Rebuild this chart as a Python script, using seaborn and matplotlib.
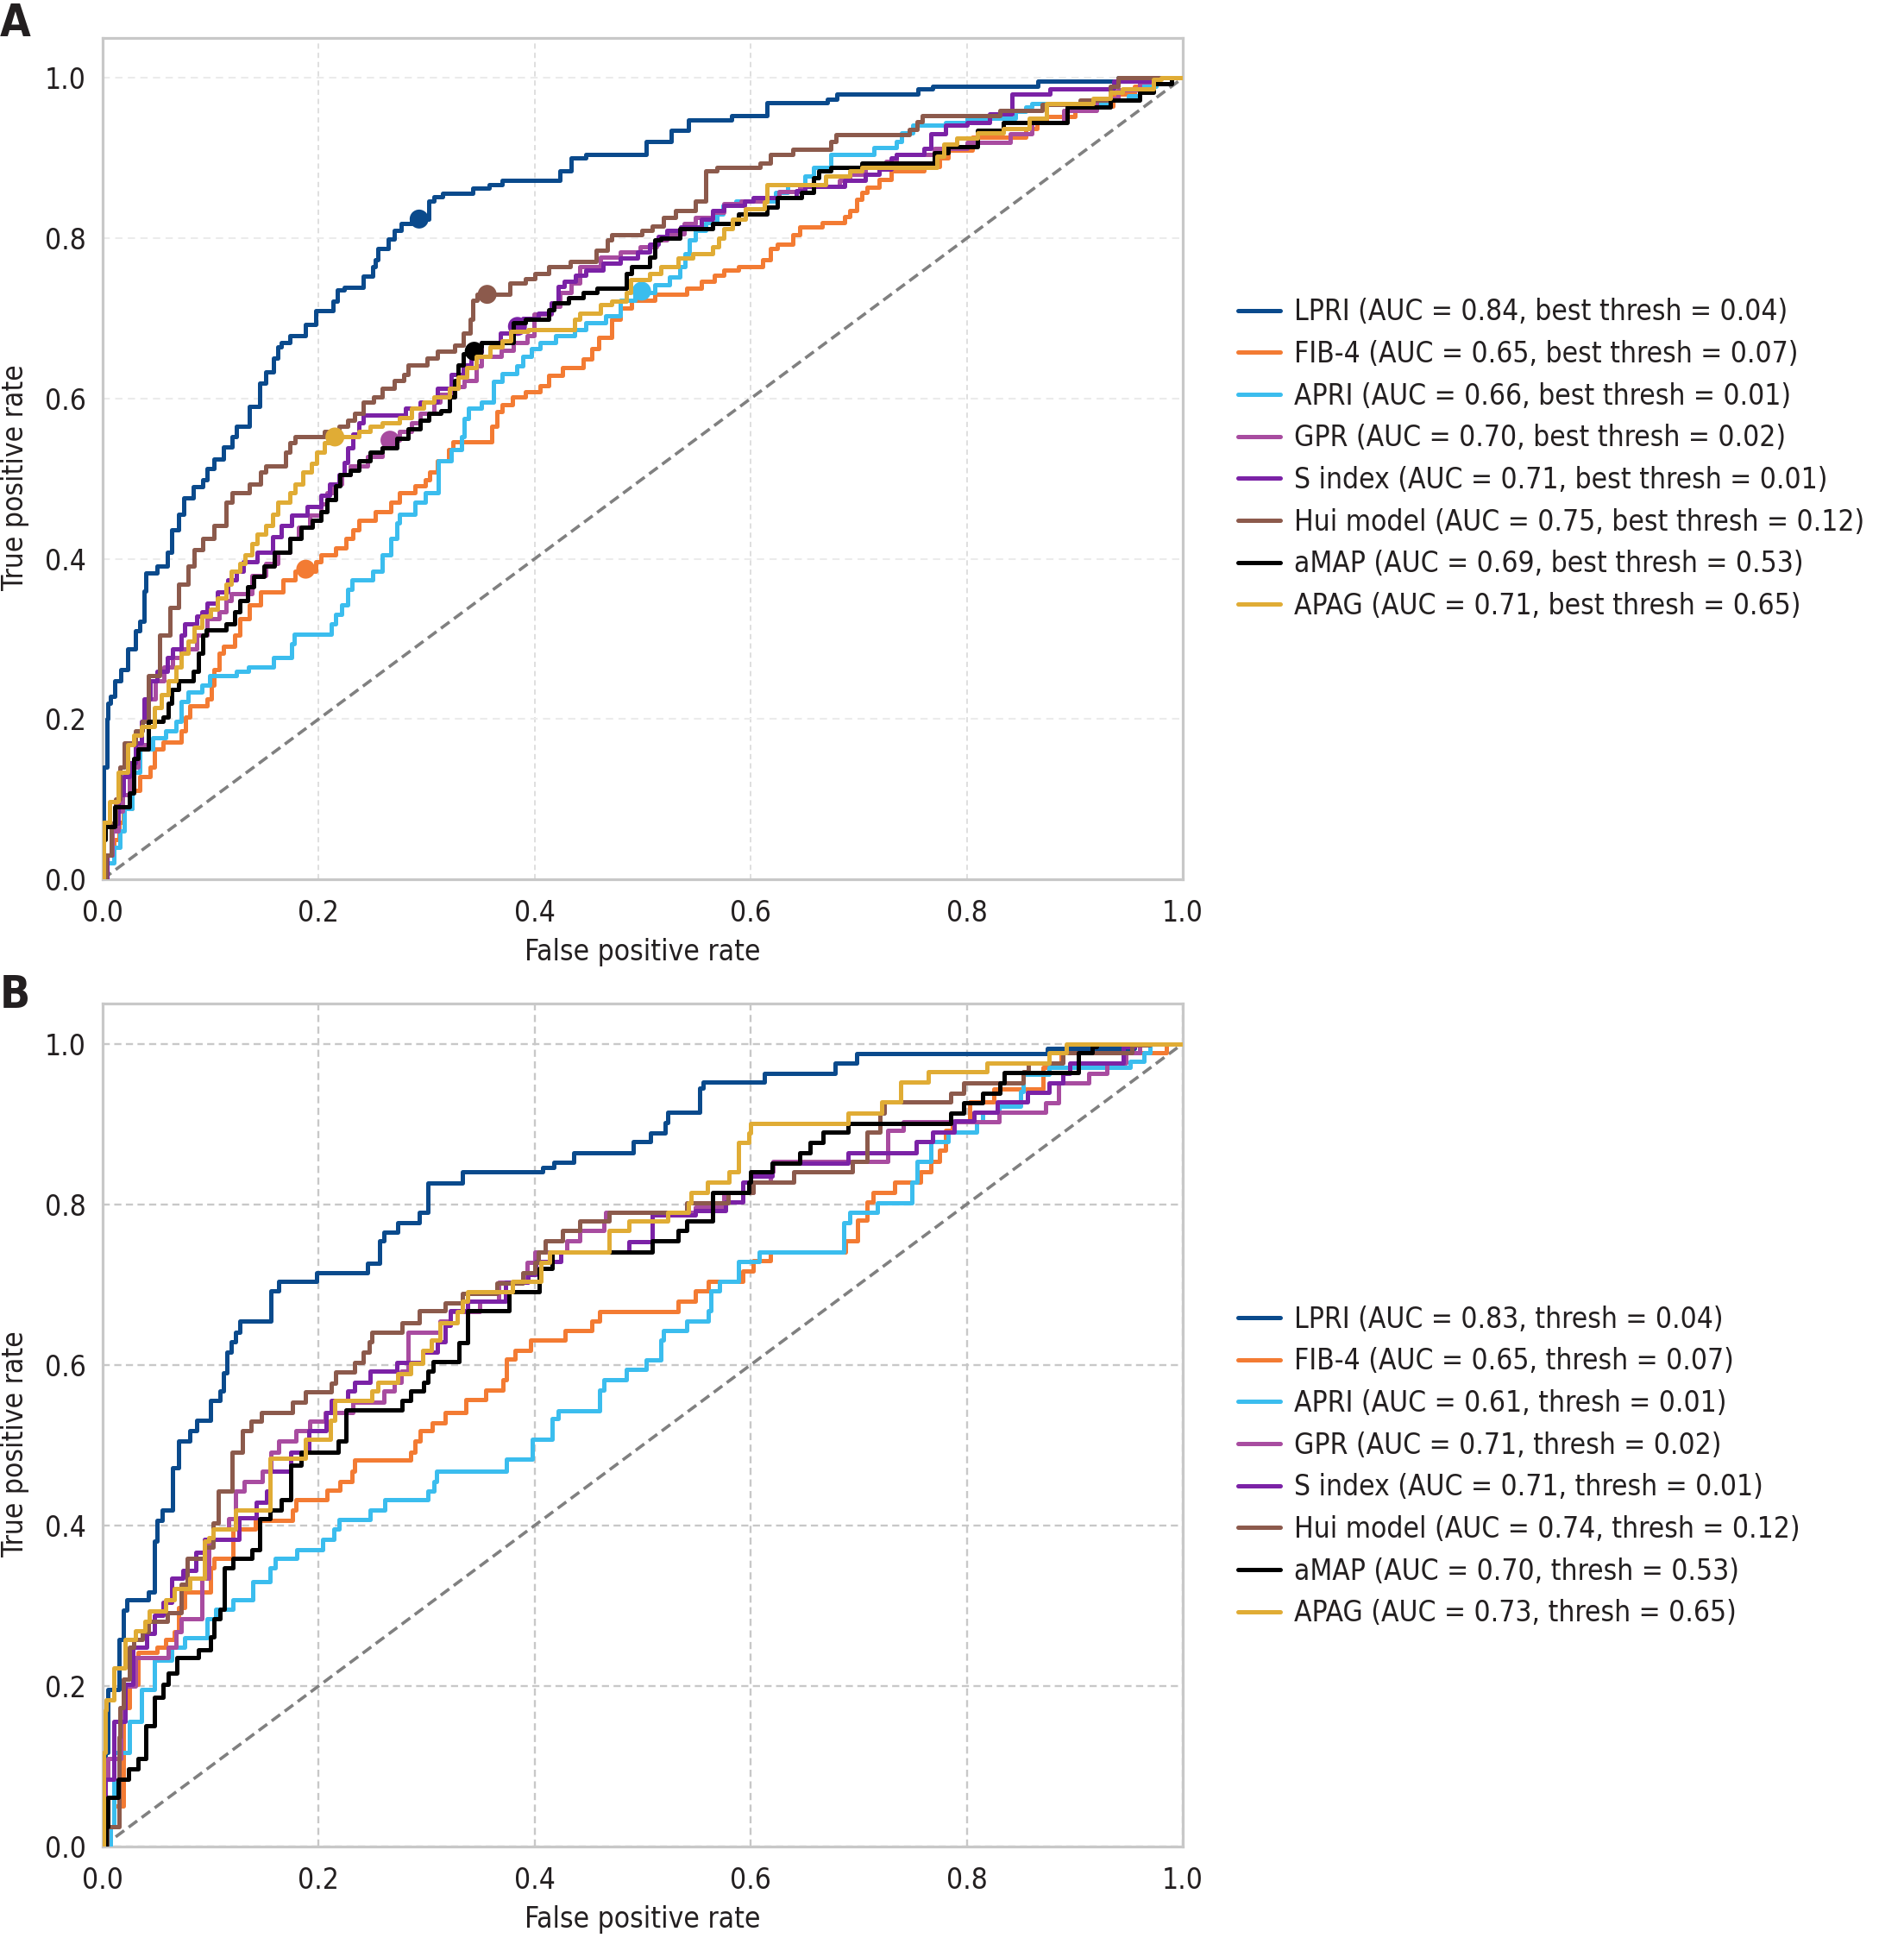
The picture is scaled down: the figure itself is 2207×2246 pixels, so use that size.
import os
import matplotlib
matplotlib.use("Agg")
import matplotlib.pyplot as plt
import matplotlib.font_manager as fm
import seaborn as sns
import pandas as pd

# ---------------- data ----------------
MODELS = ["LPRI", "FIB-4", "APRI", "GPR", "S index", "Hui model", "aMAP", "APAG"]
COLORS = ["#0a4a8c", "#f37b33", "#3bbdee", "#a84ca0", "#7b22a6", "#8c5a4c", "#000000", "#e0ac35"]
AUC_A = [0.84, 0.65, 0.66, 0.70, 0.71, 0.75, 0.69, 0.71]
AUC_B = [0.83, 0.65, 0.61, 0.71, 0.71, 0.74, 0.70, 0.73]
THRESH = [0.04, 0.07, 0.01, 0.02, 0.01, 0.12, 0.53, 0.65]

# best-threshold operating points (panel A)
BEST_FPR_A = [0.293, 0.188, 0.499, 0.266, 0.384, 0.356, 0.344, 0.215]
BEST_TPR_A = [0.824, 0.387, 0.734, 0.548, 0.690, 0.730, 0.659, 0.552]

CHANCE = [0.0, 1.0]
TICKS = [0.0, 0.2, 0.4, 0.6, 0.8, 1.0]

# ROC step vertices (fpr, tpr) - panel A
A_LPRI = [(0,0),(0.001,0.14),(0.004,0.2),(0.005,0.22),(0.007,0.228),(0.011,0.248),(0.017,0.262),(0.023,0.288),(0.03,0.31),(0.034,0.322),(0.038,0.36),(0.04,0.382),(0.05,0.391),(0.06,0.408),(0.064,0.436),(0.07,0.456),(0.075,0.476),(0.084,0.49),(0.093,0.499),(0.097,0.513),(0.103,0.525),(0.112,0.54),(0.12,0.553),(0.124,0.565),(0.136,0.59),(0.145,0.619),(0.151,0.633),(0.158,0.65),(0.162,0.665),(0.165,0.67),(0.173,0.679),(0.188,0.693),(0.197,0.71),(0.213,0.722),(0.217,0.736),(0.224,0.739),(0.241,0.753),(0.25,0.765),(0.252,0.773),(0.255,0.787),(0.264,0.799),(0.27,0.81),(0.276,0.819),(0.286,0.824),(0.302,0.847),(0.307,0.852),(0.315,0.856),(0.343,0.8626),(0.358,0.867),(0.37,0.872),(0.423,0.884),(0.434,0.9),(0.447,0.905),(0.503,0.921),(0.526,0.935),(0.542,0.948),(0.582,0.953),(0.615,0.969),(0.671,0.974),(0.68,0.98),(0.755,0.986),(0.768,0.99),(0.866,0.996),(0.94,1.0),(1.0,1.0)]
A_FIB4 = [(0,0),(0.003,0.03),(0.01,0.05),(0.015,0.071),(0.019,0.088),(0.027,0.111),(0.034,0.128),(0.044,0.14),(0.048,0.163),(0.056,0.171),(0.073,0.185),(0.077,0.203),(0.081,0.217),(0.097,0.225),(0.101,0.242),(0.103,0.262),(0.108,0.282),(0.112,0.291),(0.122,0.305),(0.127,0.325),(0.136,0.342),(0.146,0.359),(0.167,0.374),(0.178,0.385),(0.197,0.396),(0.202,0.405),(0.216,0.414),(0.225,0.425),(0.232,0.436),(0.237,0.448),(0.252,0.459),(0.267,0.471),(0.275,0.482),(0.289,0.491),(0.299,0.499),(0.303,0.508),(0.31,0.522),(0.32,0.536),(0.324,0.546),(0.36,0.565),(0.365,0.584),(0.37,0.592),(0.379,0.602),(0.391,0.608),(0.405,0.616),(0.413,0.629),(0.426,0.639),(0.445,0.649),(0.453,0.662),(0.459,0.676),(0.471,0.699),(0.479,0.713),(0.49,0.723),(0.511,0.73),(0.541,0.738),(0.554,0.746),(0.566,0.754),(0.575,0.76),(0.589,0.765),(0.611,0.773),(0.618,0.787),(0.625,0.793),(0.639,0.804),(0.645,0.814),(0.666,0.82),(0.687,0.827),(0.692,0.835),(0.698,0.849),(0.703,0.857),(0.708,0.864),(0.719,0.873),(0.73,0.884),(0.76,0.89),(0.775,0.9),(0.783,0.91),(0.805,0.926),(0.855,0.937),(0.865,0.945),(0.874,0.952),(0.9,0.965),(0.935,0.98),(0.955,0.99),(0.97,1.0),(1.0,1.0)]
A_APRI = [(0,0),(0.004,0.02),(0.01,0.04),(0.016,0.06),(0.02,0.088),(0.027,0.134),(0.034,0.163),(0.046,0.177),(0.058,0.185),(0.068,0.197),(0.073,0.222),(0.079,0.234),(0.092,0.242),(0.099,0.254),(0.124,0.26),(0.135,0.265),(0.158,0.277),(0.175,0.294),(0.177,0.306),(0.212,0.319),(0.216,0.331),(0.221,0.342),(0.227,0.362),(0.231,0.374),(0.25,0.385),(0.259,0.405),(0.267,0.425),(0.272,0.445),(0.275,0.456),(0.289,0.471),(0.299,0.482),(0.311,0.522),(0.323,0.536),(0.332,0.553),(0.335,0.575),(0.339,0.588),(0.351,0.596),(0.362,0.621),(0.37,0.631),(0.383,0.641),(0.389,0.653),(0.397,0.662),(0.405,0.67),(0.419,0.678),(0.437,0.686),(0.447,0.695),(0.466,0.703),(0.479,0.723),(0.493,0.732),(0.511,0.742),(0.525,0.752),(0.534,0.765),(0.539,0.781),(0.543,0.798),(0.549,0.81),(0.558,0.82),(0.569,0.83),(0.574,0.841),(0.586,0.847),(0.623,0.857),(0.634,0.867),(0.65,0.878),(0.658,0.888),(0.674,0.905),(0.714,0.913),(0.735,0.921),(0.74,0.932),(0.75,0.941),(0.78,0.944),(0.8,0.95),(0.845,0.958),(0.855,0.964),(0.86,0.968),(0.93,0.973),(0.95,0.978),(0.96,0.99),(0.975,1.0),(1.0,1.0)]
A_GPR = [(0,0),(0.004,0.03),(0.009,0.06),(0.014,0.085),(0.018,0.106),(0.025,0.14),(0.033,0.168),(0.042,0.225),(0.049,0.248),(0.057,0.265),(0.065,0.277),(0.073,0.288),(0.087,0.305),(0.097,0.325),(0.108,0.334),(0.114,0.348),(0.119,0.357),(0.138,0.379),(0.151,0.394),(0.162,0.408),(0.173,0.425),(0.181,0.439),(0.192,0.454),(0.202,0.468),(0.208,0.482),(0.213,0.493),(0.221,0.505),(0.229,0.516),(0.245,0.528),(0.259,0.539),(0.264,0.548),(0.275,0.559),(0.286,0.57),(0.294,0.582),(0.307,0.596),(0.312,0.605),(0.323,0.615),(0.335,0.623),(0.346,0.641),(0.351,0.653),(0.369,0.66),(0.38,0.67),(0.393,0.678),(0.399,0.705),(0.415,0.715),(0.423,0.732),(0.434,0.744),(0.442,0.765),(0.461,0.777),(0.479,0.783),(0.498,0.789),(0.513,0.798),(0.522,0.806),(0.538,0.818),(0.549,0.826),(0.565,0.832),(0.575,0.843),(0.591,0.847),(0.61,0.851),(0.626,0.858),(0.645,0.865),(0.682,0.872),(0.692,0.88),(0.706,0.888),(0.725,0.896),(0.735,0.905),(0.77,0.912),(0.8,0.92),(0.84,0.93),(0.86,0.945),(0.89,0.96),(0.92,0.975),(0.94,0.985),(0.96,0.995),(0.97,1.0),(1.0,1.0)]
A_SINDEX = [(0,0),(0.004,0.03),(0.008,0.07),(0.014,0.106),(0.019,0.128),(0.025,0.145),(0.03,0.17),(0.036,0.197),(0.038,0.225),(0.044,0.248),(0.05,0.26),(0.06,0.277),(0.065,0.288),(0.073,0.305),(0.076,0.319),(0.087,0.328),(0.092,0.334),(0.097,0.345),(0.106,0.359),(0.116,0.374),(0.124,0.385),(0.13,0.396),(0.143,0.408),(0.157,0.428),(0.165,0.442),(0.175,0.454),(0.189,0.465),(0.202,0.479),(0.21,0.493),(0.219,0.505),(0.224,0.52),(0.227,0.539),(0.232,0.556),(0.237,0.57),(0.241,0.579),(0.28,0.588),(0.294,0.596),(0.31,0.613),(0.323,0.63),(0.334,0.642),(0.341,0.658),(0.351,0.67),(0.368,0.682),(0.378,0.693),(0.389,0.7),(0.403,0.707),(0.415,0.719),(0.422,0.74),(0.427,0.746),(0.438,0.754),(0.447,0.76),(0.463,0.769),(0.479,0.775),(0.495,0.783),(0.506,0.793),(0.514,0.802),(0.522,0.81),(0.535,0.814),(0.554,0.824),(0.565,0.835),(0.575,0.841),(0.594,0.847),(0.602,0.851),(0.642,0.859),(0.65,0.865),(0.687,0.872),(0.706,0.88),(0.719,0.886),(0.73,0.9),(0.735,0.905),(0.76,0.912),(0.767,0.93),(0.78,0.941),(0.8,0.945),(0.821,0.955),(0.842,0.98),(0.877,0.986),(0.936,0.996),(0.97,1.0),(1.0,1.0)]
A_HUI = [(0,0),(0.003,0.03),(0.008,0.07),(0.012,0.1),(0.016,0.14),(0.02,0.17),(0.03,0.185),(0.037,0.197),(0.042,0.254),(0.053,0.305),(0.062,0.339),(0.07,0.368),(0.079,0.391),(0.085,0.411),(0.093,0.425),(0.103,0.442),(0.114,0.471),(0.12,0.483),(0.136,0.493),(0.146,0.508),(0.151,0.516),(0.169,0.533),(0.173,0.545),(0.178,0.552),(0.205,0.559),(0.219,0.565),(0.227,0.573),(0.233,0.582),(0.241,0.596),(0.251,0.602),(0.259,0.613),(0.27,0.622),(0.279,0.63),(0.283,0.642),(0.3,0.65),(0.31,0.659),(0.326,0.667),(0.334,0.682),(0.34,0.699),(0.343,0.723),(0.347,0.73),(0.377,0.744),(0.391,0.75),(0.4,0.756),(0.413,0.765),(0.433,0.771),(0.457,0.785),(0.467,0.798),(0.471,0.804),(0.499,0.81),(0.509,0.815),(0.519,0.826),(0.53,0.835),(0.549,0.847),(0.558,0.884),(0.569,0.889),(0.609,0.894),(0.618,0.905),(0.639,0.911),(0.674,0.921),(0.679,0.929),(0.747,0.936),(0.754,0.946),(0.759,0.953),(0.831,0.96),(0.87,0.967),(0.905,0.972),(0.933,0.99),(0.94,1.0),(1.0,1.0)]
A_AMAP = [(0,0),(0.001,0.05),(0.002,0.066),(0.011,0.091),(0.025,0.108),(0.029,0.151),(0.033,0.163),(0.042,0.197),(0.056,0.203),(0.061,0.22),(0.064,0.237),(0.07,0.248),(0.084,0.26),(0.089,0.282),(0.093,0.305),(0.096,0.311),(0.114,0.319),(0.122,0.334),(0.127,0.348),(0.134,0.365),(0.14,0.378),(0.149,0.391),(0.159,0.408),(0.173,0.425),(0.184,0.439),(0.194,0.448),(0.202,0.459),(0.208,0.474),(0.216,0.491),(0.22,0.505),(0.229,0.511),(0.237,0.522),(0.248,0.533),(0.259,0.539),(0.272,0.55),(0.283,0.562),(0.294,0.573),(0.302,0.582),(0.313,0.585),(0.321,0.602),(0.326,0.622),(0.329,0.642),(0.334,0.656),(0.348,0.665),(0.351,0.67),(0.38,0.695),(0.391,0.699),(0.413,0.711),(0.418,0.719),(0.431,0.726),(0.445,0.732),(0.458,0.738),(0.485,0.756),(0.49,0.765),(0.506,0.777),(0.511,0.798),(0.517,0.8),(0.534,0.812),(0.565,0.818),(0.589,0.83),(0.615,0.839),(0.625,0.851),(0.647,0.857),(0.658,0.876),(0.663,0.884),(0.674,0.888),(0.703,0.894),(0.77,0.907),(0.783,0.914),(0.81,0.935),(0.834,0.944),(0.893,0.964),(0.933,0.973),(0.96,0.982),(0.973,0.993),(0.99,1.0),(1.0,1.0)]
A_APAG = [(0,0),(0.0005,0.071),(0.006,0.097),(0.014,0.134),(0.023,0.168),(0.029,0.18),(0.036,0.191),(0.048,0.214),(0.054,0.231),(0.061,0.248),(0.068,0.265),(0.073,0.282),(0.079,0.297),(0.085,0.314),(0.092,0.328),(0.1,0.337),(0.106,0.351),(0.114,0.368),(0.119,0.385),(0.127,0.394),(0.132,0.405),(0.138,0.419),(0.143,0.431),(0.151,0.442),(0.157,0.456),(0.162,0.471),(0.173,0.482),(0.178,0.493),(0.185,0.508),(0.193,0.519),(0.198,0.533),(0.205,0.545),(0.213,0.552),(0.237,0.559),(0.248,0.565),(0.259,0.57),(0.275,0.576),(0.286,0.588),(0.297,0.596),(0.307,0.602),(0.321,0.613),(0.329,0.627),(0.337,0.639),(0.346,0.653),(0.359,0.664),(0.37,0.672),(0.378,0.684),(0.394,0.686),(0.437,0.699),(0.442,0.707),(0.461,0.717),(0.471,0.722),(0.485,0.732),(0.489,0.748),(0.506,0.756),(0.517,0.765),(0.533,0.775),(0.546,0.781),(0.565,0.789),(0.57,0.8),(0.575,0.812),(0.583,0.824),(0.595,0.837),(0.613,0.845),(0.615,0.867),(0.669,0.878),(0.692,0.884),(0.703,0.889),(0.772,0.903),(0.779,0.918),(0.791,0.925),(0.81,0.932),(0.834,0.937),(0.858,0.95),(0.874,0.968),(0.917,0.975),(0.933,0.982),(0.944,0.987),(0.973,0.998),(0.98,1.0),(1.0,1.0)]

# ROC step vertices (fpr, tpr) - panel B
B_LPRI = [(0,0),(0.002,0.117),(0.005,0.196),(0.015,0.258),(0.019,0.294),(0.0225,0.307),(0.042,0.317),(0.048,0.38),(0.05,0.406),(0.055,0.419),(0.065,0.472),(0.07,0.505),(0.081,0.518),(0.087,0.531),(0.1,0.556),(0.109,0.567),(0.112,0.59),(0.115,0.616),(0.119,0.629),(0.123,0.64),(0.127,0.654),(0.156,0.692),(0.163,0.704),(0.198,0.715),(0.245,0.727),(0.256,0.754),(0.26,0.765),(0.273,0.777),(0.293,0.79),(0.301,0.826),(0.333,0.84),(0.407,0.846),(0.418,0.852),(0.436,0.864),(0.491,0.878),(0.507,0.889),(0.521,0.902),(0.523,0.915),(0.553,0.945),(0.556,0.952),(0.613,0.963),(0.678,0.976),(0.698,0.988),(0.875,0.994),(0.955,1.0),(1.0,1.0)]
B_FIB4 = [(0,0),(0.005,0.025),(0.01,0.05),(0.019,0.173),(0.025,0.202),(0.033,0.242),(0.05,0.248),(0.058,0.258),(0.066,0.268),(0.07,0.298),(0.076,0.317),(0.1,0.347),(0.103,0.359),(0.121,0.396),(0.141,0.406),(0.176,0.419),(0.179,0.432),(0.208,0.444),(0.22,0.455),(0.231,0.468),(0.233,0.482),(0.285,0.491),(0.289,0.505),(0.294,0.518),(0.305,0.528),(0.317,0.541),(0.336,0.557),(0.355,0.569),(0.371,0.581),(0.374,0.607),(0.382,0.618),(0.396,0.631),(0.428,0.643),(0.453,0.655),(0.46,0.666),(0.533,0.679),(0.549,0.692),(0.561,0.704),(0.593,0.717),(0.602,0.73),(0.618,0.741),(0.688,0.754),(0.699,0.78),(0.708,0.803),(0.713,0.815),(0.733,0.828),(0.757,0.84),(0.767,0.853),(0.775,0.867),(0.78,0.892),(0.787,0.903),(0.803,0.928),(0.825,0.944),(0.871,0.97),(0.887,0.989),(0.985,1.0),(1.0,1.0)]
B_APRI = [(0,0),(0.007,0.025),(0.01,0.117),(0.025,0.156),(0.036,0.196),(0.048,0.232),(0.064,0.248),(0.076,0.26),(0.097,0.284),(0.105,0.296),(0.121,0.307),(0.139,0.33),(0.155,0.347),(0.16,0.359),(0.18,0.37),(0.204,0.383),(0.214,0.396),(0.219,0.407),(0.248,0.419),(0.261,0.432),(0.301,0.443),(0.307,0.455),(0.309,0.468),(0.374,0.483),(0.398,0.507),(0.416,0.533),(0.422,0.543),(0.46,0.569),(0.464,0.581),(0.485,0.594),(0.503,0.606),(0.517,0.631),(0.519,0.643),(0.541,0.655),(0.561,0.667),(0.563,0.692),(0.571,0.704),(0.589,0.729),(0.608,0.741),(0.686,0.777),(0.692,0.79),(0.717,0.802),(0.749,0.828),(0.754,0.853),(0.767,0.878),(0.783,0.89),(0.809,0.903),(0.815,0.915),(0.83,0.922),(0.85,0.94),(0.852,0.962),(0.876,0.97),(0.951,0.978),(0.964,0.989),(0.97,1.0),(1.0,1.0)]
B_GPR = [(0,0),(0.002,0.084),(0.005,0.11),(0.017,0.156),(0.02,0.2),(0.0305,0.235),(0.061,0.248),(0.068,0.268),(0.073,0.284),(0.0915,0.334),(0.098,0.38),(0.102,0.396),(0.117,0.408),(0.123,0.443),(0.131,0.455),(0.148,0.467),(0.156,0.491),(0.163,0.505),(0.179,0.518),(0.192,0.53),(0.206,0.541),(0.232,0.553),(0.26,0.567),(0.27,0.578),(0.276,0.592),(0.283,0.641),(0.312,0.654),(0.322,0.666),(0.349,0.679),(0.367,0.703),(0.393,0.728),(0.4,0.741),(0.43,0.754),(0.442,0.767),(0.464,0.779),(0.466,0.79),(0.549,0.796),(0.575,0.815),(0.602,0.827),(0.618,0.84),(0.621,0.853),(0.727,0.892),(0.741,0.903),(0.83,0.915),(0.873,0.926),(0.885,0.951),(0.913,0.963),(0.93,0.976),(0.947,0.989),(0.96,1.0),(1.0,1.0)]
B_SINDEX = [(0,0),(0.002,0.084),(0.01,0.156),(0.021,0.202),(0.028,0.248),(0.041,0.265),(0.048,0.288),(0.056,0.304),(0.064,0.334),(0.074,0.344),(0.086,0.367),(0.094,0.383),(0.126,0.409),(0.142,0.429),(0.152,0.443),(0.155,0.467),(0.174,0.491),(0.191,0.518),(0.207,0.541),(0.212,0.556),(0.227,0.567),(0.233,0.578),(0.248,0.592),(0.272,0.603),(0.296,0.616),(0.31,0.629),(0.317,0.649),(0.322,0.667),(0.338,0.679),(0.373,0.703),(0.394,0.713),(0.401,0.729),(0.424,0.741),(0.487,0.753),(0.509,0.787),(0.549,0.792),(0.577,0.803),(0.593,0.827),(0.6,0.835),(0.62,0.851),(0.69,0.864),(0.753,0.878),(0.768,0.89),(0.788,0.904),(0.807,0.915),(0.828,0.927),(0.856,0.939),(0.876,0.951),(0.889,0.963),(0.895,0.976),(0.945,0.996),(0.955,1.0),(1.0,1.0)]
B_HUI = [(0,0),(0.004,0.025),(0.015,0.137),(0.016,0.173),(0.019,0.209),(0.025,0.248),(0.029,0.258),(0.037,0.268),(0.042,0.281),(0.06,0.291),(0.073,0.327),(0.078,0.359),(0.094,0.373),(0.102,0.403),(0.107,0.443),(0.12,0.491),(0.129,0.518),(0.137,0.53),(0.147,0.541),(0.176,0.554),(0.188,0.566),(0.212,0.577),(0.216,0.591),(0.233,0.603),(0.241,0.616),(0.247,0.629),(0.249,0.641),(0.277,0.652),(0.293,0.667),(0.317,0.677),(0.333,0.689),(0.365,0.702),(0.389,0.715),(0.4,0.728),(0.403,0.741),(0.41,0.754),(0.426,0.767),(0.442,0.779),(0.469,0.79),(0.541,0.802),(0.579,0.815),(0.602,0.827),(0.64,0.84),(0.694,0.853),(0.708,0.89),(0.72,0.913),(0.724,0.927),(0.785,0.938),(0.797,0.951),(0.852,0.965),(0.857,0.976),(0.889,0.989),(0.953,0.998),(0.97,1.0),(1.0,1.0)]
B_AMAP = [(0,0),(0.003,0.025),(0.005,0.061),(0.0146,0.084),(0.024,0.097),(0.033,0.11),(0.04,0.15),(0.048,0.186),(0.056,0.202),(0.061,0.216),(0.069,0.235),(0.089,0.245),(0.1,0.261),(0.103,0.284),(0.109,0.296),(0.113,0.347),(0.121,0.359),(0.138,0.37),(0.145,0.408),(0.155,0.419),(0.165,0.432),(0.174,0.475),(0.184,0.491),(0.218,0.505),(0.225,0.544),(0.277,0.556),(0.285,0.567),(0.297,0.578),(0.301,0.592),(0.306,0.604),(0.33,0.628),(0.338,0.667),(0.376,0.691),(0.404,0.72),(0.416,0.741),(0.509,0.754),(0.533,0.767),(0.541,0.779),(0.565,0.815),(0.598,0.827),(0.6,0.84),(0.62,0.851),(0.645,0.864),(0.655,0.877),(0.667,0.89),(0.69,0.901),(0.785,0.913),(0.797,0.926),(0.815,0.938),(0.831,0.951),(0.835,0.964),(0.903,0.989),(0.916,0.996),(0.92,1.0),(1.0,1.0)]
B_APAG = [(0,0),(0.0005,0.117),(0.002,0.17),(0.003,0.183),(0.0106,0.222),(0.021,0.258),(0.0305,0.269),(0.039,0.281),(0.043,0.293),(0.058,0.307),(0.066,0.321),(0.081,0.334),(0.094,0.38),(0.098,0.385),(0.102,0.396),(0.123,0.419),(0.155,0.484),(0.188,0.507),(0.211,0.531),(0.215,0.556),(0.249,0.567),(0.255,0.578),(0.273,0.589),(0.285,0.602),(0.296,0.618),(0.304,0.631),(0.312,0.652),(0.328,0.666),(0.333,0.679),(0.338,0.691),(0.379,0.704),(0.406,0.728),(0.414,0.741),(0.469,0.767),(0.487,0.779),(0.523,0.79),(0.542,0.802),(0.545,0.815),(0.56,0.827),(0.58,0.84),(0.589,0.877),(0.598,0.889),(0.6,0.901),(0.69,0.914),(0.721,0.928),(0.739,0.952),(0.764,0.965),(0.819,0.976),(0.876,0.989),(0.892,1.0),(1.0,1.0)]

CURVES_A = [A_LPRI, A_FIB4, A_APRI, A_GPR, A_SINDEX, A_HUI, A_AMAP, A_APAG]
CURVES_B = [B_LPRI, B_FIB4, B_APRI, B_GPR, B_SINDEX, B_HUI, B_AMAP, B_APAG]

# ---------------- style ----------------
sns.set_theme(style="white")
cond = [f for f in fm.fontManager.ttflist if os.path.basename(f.fname) == "DejaVuSansCondensed.ttf"]
if cond:
    plt.rcParams["font.family"] = [cond[0].name]
    plt.rcParams["font.stretch"] = cond[0].stretch
else:
    plt.rcParams["font.family"] = ["Liberation Sans", "DejaVu Sans"]

TXT = "#231f20"
FS = 24
LW = 3.6
W, H = 2207, 2246
fig = plt.figure(figsize=(W / 100, H / 100), dpi=100)
axA = fig.add_axes([119 / W, 1 - 1019 / H, 1252 / W, 975 / H])
axB = fig.add_axes([119 / W, 1 - 2140 / H, 1252 / W, 977 / H])


def draw(ax, curves, aucs, label_fmt, light_grid, legend_y, best=None):
    ax.set_xlim(0, 1)
    ax.set_ylim(0, 1.05)
    ax.set_axisbelow(True)
    if light_grid:
        ax.xaxis.grid(True, color="#d6d6d6", lw=1.1, ls=(0, (4, 3)))
        ax.yaxis.grid(True, color="#ebebeb", lw=1.5, ls=(0, (4, 3)))
    else:
        ax.grid(True, color="#c8c8c8", lw=1.7, ls=(0, (3.5, 2.2)))
    sns.lineplot(x=CHANCE, y=CHANCE, ax=ax, color="#808080", lw=2.6,
                 dashes=False, linestyle=(0, (3.4, 1.8)), zorder=3)
    for i, pts in enumerate(curves):
        df = pd.DataFrame(pts, columns=["fpr", "tpr"])
        lab = label_fmt.format(m=MODELS[i], a=aucs[i], t=THRESH[i])
        sns.lineplot(data=df, x="fpr", y="tpr", ax=ax, color=COLORS[i], lw=LW,
                     estimator=None, sort=False, drawstyle="steps-post",
                     label=lab, zorder=3)
        if best is not None:
            sns.scatterplot(x=[best[0][i]], y=[best[1][i]], ax=ax, color=COLORS[i],
                            s=250, edgecolor="none", zorder=3, legend=False)
    for s in ax.spines.values():
        s.set_color("#c8c8c8")
        s.set_linewidth(2.3)
        s.set_visible(True)
    ax.set_xticks(TICKS)
    ax.set_yticks(TICKS)
    ax.set_xticklabels([f"{t:.1f}" for t in TICKS])
    ax.set_yticklabels([f"{t:.1f}" for t in TICKS])
    ax.tick_params(axis="x", length=0, pad=16.5, labelsize=FS, labelcolor=TXT)
    ax.tick_params(axis="y", length=0, pad=14, labelsize=FS, labelcolor=TXT)
    ax.set_xlabel("False positive rate", fontsize=FS, color=TXT, labelpad=9)
    ax.set_ylabel("True positive rate", fontsize=FS, color=TXT)
    ax.yaxis.set_label_coords(-0.068, 0.478)
    leg = ax.legend(loc="center left", bbox_to_anchor=(1.0515, legend_y), frameon=False,
                    fontsize=FS, handlelength=1.45, handletextpad=0.5, labelspacing=0.47,
                    borderpad=0, borderaxespad=0, labelcolor=TXT)
    for h in leg.get_lines():
        h.set_linewidth(LW)


draw(axA, CURVES_A, AUC_A, "{m} (AUC = {a:.2f}, best thresh = {t:.2f})", True, 0.4993,
     best=(BEST_FPR_A, BEST_TPR_A))
draw(axB, CURVES_B, AUC_B, "{m} (AUC = {a:.2f}, thresh = {t:.2f})", False, 0.4507)

fig.text(0.0, 1 - 42 / H, "A", fontsize=37, fontweight="bold", color=TXT, va="baseline", ha="left")
fig.text(0.0, 1 - 1168 / H, "B", fontsize=37, fontweight="bold", color=TXT, va="baseline", ha="left")

fig.savefig("out.png", dpi=100)
